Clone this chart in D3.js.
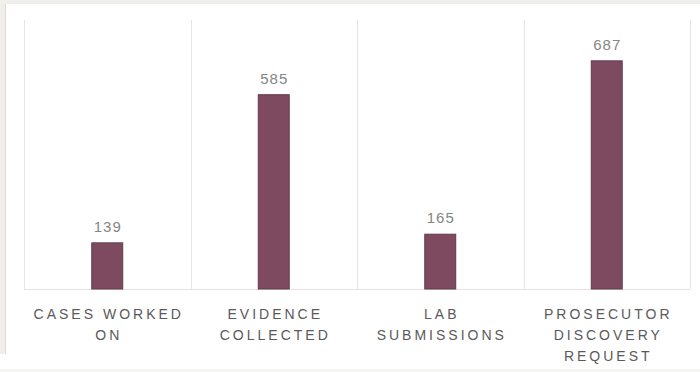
<!DOCTYPE html>
<html>
<head>
<meta charset="utf-8">
<script src="https://cdn.jsdelivr.net/npm/d3@7"></script>
<style>
  html, body { margin: 0; padding: 0; background: #ffffff; }
  svg { display: block; }
</style>
</head>
<body>
<svg id="chart" width="700" height="372"></svg>
<script>
const categories = ["CASES WORKED ON", "EVIDENCE COLLECTED", "LAB SUBMISSIONS", "PROSECUTOR DISCOVERY REQUEST"];
const labelLines = [["CASES WORKED", "ON"], ["EVIDENCE", "COLLECTED"], ["LAB", "SUBMISSIONS"], ["PROSECUTOR", "DISCOVERY", "REQUEST"]];
const values = [139, 585, 165, 687];

(function() {
const W = 700, H = 372;
const svg = d3.select("#chart");

// backgrounds
svg.append("rect").attr("x", 0).attr("y", 0).attr("width", W).attr("height", H).attr("fill", "#ffffff");
svg.append("rect").attr("x", 0).attr("y", 0).attr("width", W).attr("height", 4).attr("fill", "#f1efeb");
svg.append("rect").attr("x", 0).attr("y", 0).attr("width", 5).attr("height", 354).attr("fill", "#f1efeb");
svg.append("line").attr("x1", 5.5).attr("x2", 5.5).attr("y1", 4).attr("y2", 354).attr("stroke", "#dcdad6").attr("stroke-width", 1);
svg.append("rect").attr("x", 0).attr("y", 369).attr("width", W).attr("height", 3).attr("fill", "#f5f5f4");

const plotLeft = 24, plotRight = 690, plotTop = 20, baseline = 289;

const x = d3.scaleBand().domain(categories).range([plotLeft, plotRight]).paddingInner(0).paddingOuter(0);
const y = d3.scaleLinear().domain([0, 810]).range([baseline, plotTop]);

// vertical separators
const bounds = categories.map(c => x(c)).concat([plotRight]);
svg.append("g").selectAll("line").data(bounds).join("line")
  .attr("x1", d => Math.round(d) + 0.5).attr("x2", d => Math.round(d) + 0.5)
  .attr("y1", plotTop).attr("y2", baseline)
  .attr("stroke", "#e4e4e4").attr("stroke-width", 1);

// baseline
svg.append("line").attr("x1", plotLeft).attr("x2", plotRight)
  .attr("y1", baseline + 0.5).attr("y2", baseline + 0.5)
  .attr("stroke", "#e6e0e2").attr("stroke-width", 1);

const barFrac = 0.186;
const barW = x.bandwidth() * barFrac;

svg.append("g").selectAll("rect").data(values).join("rect")
  .attr("x", (d, i) => x(categories[i]) + (x.bandwidth() - barW) / 2)
  .attr("y", d => y(d))
  .attr("width", barW)
  .attr("height", d => y(0) - y(d))
  .attr("fill", "#7e4a60")
  .attr("stroke", "#633a4c")
  .attr("stroke-width", 1);

svg.append("g").selectAll("text").data(values).join("text")
  .attr("x", (d, i) => x(categories[i]) + x.bandwidth() / 2 + 0.5)
  .attr("y", d => y(d) - 11)
  .attr("text-anchor", "middle")
  .attr("font-family", "Liberation Sans, Arial, sans-serif")
  .attr("font-size", 15)
  .attr("letter-spacing", 1)
  .attr("fill", "#858585")
  .text(d => d);

// category axis
const axis = d3.axisBottom(x).tickSize(0).tickFormat("");
const gx = svg.append("g").attr("transform", `translate(0,${baseline})`).call(axis);
gx.select(".domain").remove();
gx.selectAll(".tick").each(function(d, i) {
  const t = d3.select(this).append("text")
    .attr("text-anchor", "middle")
    .attr("font-family", "Liberation Sans, Arial, sans-serif")
    .attr("font-size", 14)
    .attr("letter-spacing", 3)
    .attr("fill", "#5a5a5a");
  labelLines[i].forEach((ln, j) => {
    t.append("tspan").attr("x", 1.5).attr("y", 30 + j * 21).text(ln);
  });
});
})();
</script>
</body>
</html>
